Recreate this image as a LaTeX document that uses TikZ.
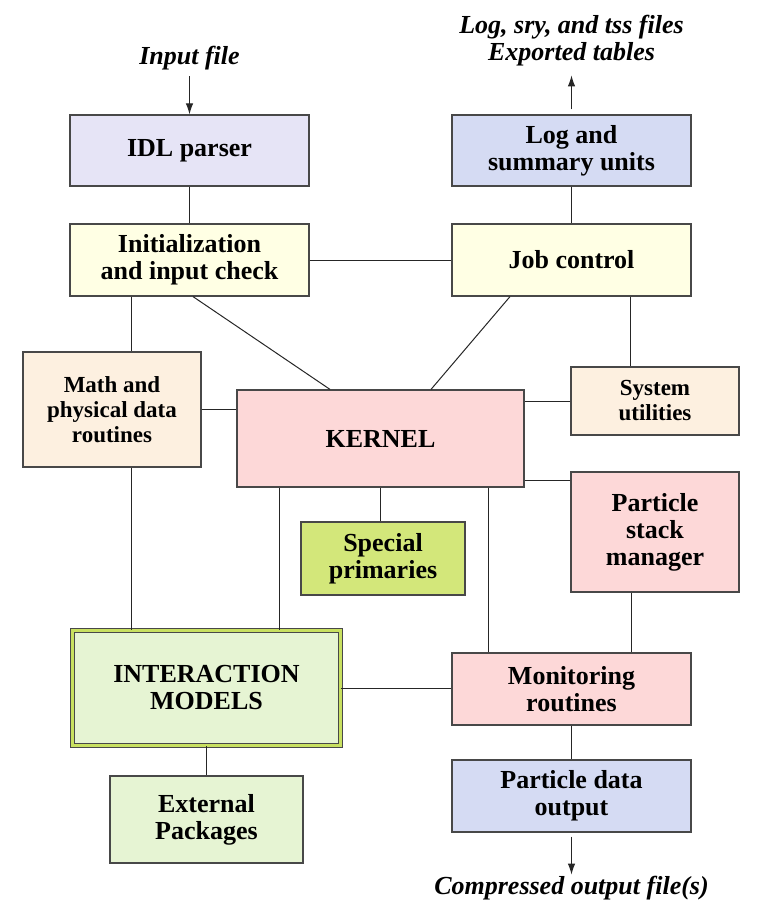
\documentclass[tikz,border=0pt]{standalone}
\usepackage{fontspec}
\setmainfont{Liberation Serif}
\usetikzlibrary{positioning,arrows.meta}

\definecolor{idlfill}{HTML}{E6E4F6}
\definecolor{logfill}{HTML}{D5DBF3}
\definecolor{initfill}{HTML}{FFFFE4}
\definecolor{mathfill}{HTML}{FDF0E0}
\definecolor{kernfill}{HTML}{FDD8D8}
\definecolor{specfill}{HTML}{D3E77A}
\definecolor{bandfill}{HTML}{C8E060}
\definecolor{intfill}{HTML}{E6F4D3}
\definecolor{edgegray}{HTML}{484848}

\begin{document}
\begin{tikzpicture}[
    x=1pt, y=-1pt,
    font=\bfseries\fontsize{26}{27}\selectfont,
    unit/.style={rectangle, draw=edgegray, line width=1.2pt, fill=#1,
        align=center, inner sep=0pt},
    smallunit/.style={unit=#1, font=\bfseries\fontsize{23}{25}\selectfont},
    io/.style={font=\bfseries\itshape\fontsize{26}{27}\selectfont, align=center, inner sep=0pt},
    link/.style={draw=black!85, line width=1pt},
    flow/.style={link, -{Latex[length=11pt,width=7.5pt]}},
]
\useasboundingbox (0,0) rectangle (762,917);

% top row
\node[unit=idlfill, minimum width=239pt, minimum height=71pt] (idl)
    at (189.5,150.5) {IDL parser};
\node[unit=logfill, minimum width=239pt, minimum height=71pt] (logu)
    at (571.5,150.5) {Log and\\summary units};

\node[unit=initfill, minimum width=239pt, minimum height=72pt] (init)
    at (189.5,260) {Initialization\\and input check};
\node[unit=initfill, minimum width=239pt, minimum height=72pt] (job)
    at (571.5,260) {Job control};

% middle
\node[smallunit=mathfill, minimum width=178pt, minimum height=115pt] (math)
    at (112,409.5) {Math and\\physical data\\routines};
\node[unit=kernfill, minimum width=287pt, minimum height=97pt] (kernel)
    at (380.5,438.5) {KERNEL};
\node[smallunit=mathfill, minimum width=168pt, minimum height=68pt] (sysu)
    at (655,401) {System\\utilities};

\node[unit=specfill, minimum width=164pt, minimum height=73pt] (special)
    at (383,558.5) {Special\\primaries};
\node[unit=kernfill, minimum width=168pt, minimum height=120pt] (stack)
    at (655,532) {Particle\\stack\\manager};

% bottom
\node[unit=intfill, double=bandfill, line width=0.9pt, double distance=3.5pt,
    minimum width=268pt, minimum height=115pt] (inter)
    at (206.5,688) {INTERACTION\\MODELS};
\node[unit=kernfill, minimum width=239pt, minimum height=72pt] (monit)
    at (571.5,689) {Monitoring\\routines};

\node[unit=intfill, minimum width=193pt, minimum height=87pt] (extp)
    at (206.5,819.5) {External\\Packages};
\node[unit=logfill, minimum width=239pt, minimum height=72pt] (pdo)
    at (571.5,796) {Particle data\\output};

% files in and out
\node[io, above=44pt of idl] (infile) {Input file};
\node[io, above=48pt of logu] (logout) {Log, sry, and tss files\\Exported tables};
\node[io, below=43pt of pdo] (cmpout) {Compressed output file(s)};

\draw[flow, shorten <=6pt] (infile) -- (idl);
\draw[flow, shorten <=5pt, shorten >=9pt] (logu) -- (logout);
\draw[flow, shorten <=4pt, shorten >=1pt] (pdo) -- (cmpout);

% links
\draw[link] (idl) -- (init);
\draw[link] (logu) -- (job);
\draw[link] (init) -- (job);
\draw[link] ([xshift=3.5pt]init.south) -- ([xshift=-50.5pt]kernel.north);
\draw[link] ([xshift=-61.5pt]job.south) -- ([xshift=50.5pt]kernel.north);
\draw[link] ([xshift=-58.5pt]init.south) coordinate (a) -- (a |- math.north);
\draw[link] ([xshift=58.5pt]job.south) coordinate (b) -- (b |- sysu.north);
\draw[link] (math.east) -- (math.east -| kernel.west);
\draw[link] (sysu.west) -- (sysu.west -| kernel.east);
\draw[link] ([yshift=52pt]stack.west) coordinate (c) -- (c -| kernel.east);
\draw[link] (kernel.south) -- (kernel.south |- special.north);
\draw[link] ([xshift=-101.5pt]kernel.south) coordinate (d) -- (d |- inter.north);
\draw[link] ([xshift=107.5pt]kernel.south) coordinate (e) -- (e |- monit.north);
\draw[link] ([xshift=19pt]math.south) coordinate (f) -- (f |- inter.north);
\draw[link] ([xshift=-24pt]stack.south) coordinate (g) -- (g |- monit.north);
\draw[link] (inter.east) -- (inter.east -| monit.west);
\draw[link] (inter) -- (extp);
\draw[link] (monit) -- (pdo);

\end{tikzpicture}
\end{document}
